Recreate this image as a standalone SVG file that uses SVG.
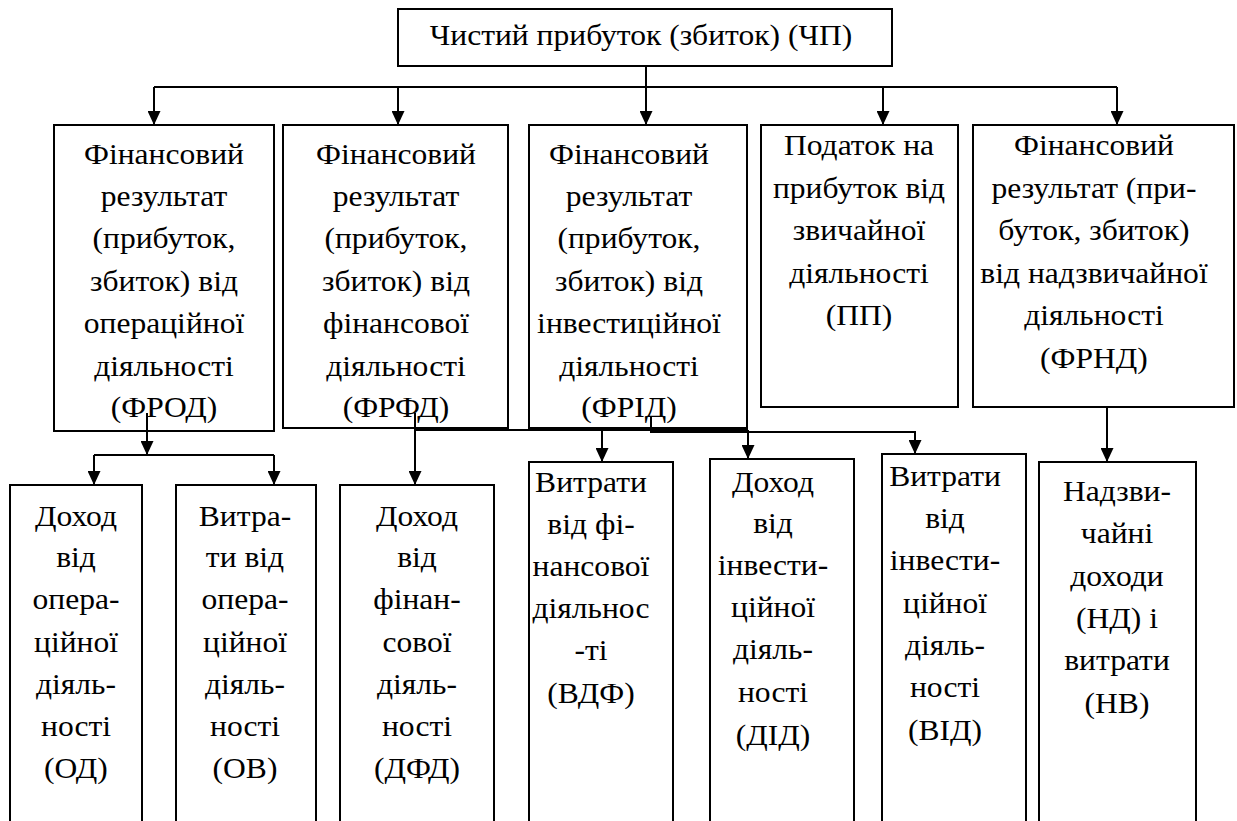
<svg xmlns="http://www.w3.org/2000/svg" width="1237" height="821" viewBox="0 0 1237 821">
<defs>
<marker id="ah" viewBox="0 0 14 13" refX="14" refY="6.5" markerWidth="14" markerHeight="13" markerUnits="userSpaceOnUse" orient="auto">
<path d="M0,0 L14,6.5 L0,13 z" fill="#000"/>
</marker>
<style>
rect{fill:#fff;stroke:#000;stroke-width:2}
.c{fill:none;stroke:#000;stroke-width:2}
.a{marker-end:url(#ah)}
</style>
</defs>
<g id="nodes" font-family="'Liberation Serif', 'Times New Roman', serif" font-size="29.5" fill="#000" text-anchor="middle">
<g id="n-top"><rect x="398" y="9" width="494" height="57"/><text transform="matrix(1.07 0 0 1 -44.87 0)" x="641" y="45">Чистий прибуток (збиток) (ЧП)</text></g>
<g id="n-frod"><rect x="54" y="125" width="220" height="306"/><text transform="matrix(1.07 0 0 1 -11.48 0)"><tspan x="164" y="164">Фінансовий</tspan><tspan x="164" y="206">результат</tspan><tspan x="164" y="248">(прибуток,</tspan><tspan x="164" y="291">збиток) від</tspan><tspan x="164" y="333">операційної</tspan><tspan x="164" y="376">діяльності</tspan><tspan x="164" y="417">(ФРОД)</tspan></text></g>
<g id="n-frfd"><rect x="283" y="125" width="225" height="303"/><text transform="matrix(1.07 0 0 1 -27.72 0)"><tspan x="396" y="164">Фінансовий</tspan><tspan x="396" y="206">результат</tspan><tspan x="396" y="248">(прибуток,</tspan><tspan x="396" y="291">збиток) від</tspan><tspan x="396" y="333">фінансової</tspan><tspan x="396" y="376">діяльності</tspan><tspan x="396" y="417">(ФРФД)</tspan></text></g>
<g id="n-frid"><rect x="529" y="125" width="218" height="303"/><text transform="matrix(1.07 0 0 1 -44.03 0)"><tspan x="629" y="164">Фінансовий</tspan><tspan x="629" y="206">результат</tspan><tspan x="629" y="248">(прибуток,</tspan><tspan x="629" y="291">збиток) від</tspan><tspan x="629" y="333">інвестиційної</tspan><tspan x="629" y="376">діяльності</tspan><tspan x="629" y="417">(ФРІД)</tspan></text></g>
<g id="n-pp"><rect x="761" y="125" width="197" height="282"/><text transform="matrix(1.07 0 0 1 -60.13 0)"><tspan x="859" y="155">Податок на</tspan><tspan x="859" y="198">прибуток від</tspan><tspan x="859" y="240">звичайної</tspan><tspan x="859" y="283">діяльності</tspan><tspan x="859" y="325">(ПП)</tspan></text></g>
<g id="n-frnd"><rect x="973" y="125" width="261" height="282"/><text transform="matrix(1.07 0 0 1 -76.58 0)"><tspan x="1094" y="155">Фінансовий</tspan><tspan x="1094" y="198">результат (при-</tspan><tspan x="1094" y="240">буток, збиток)</tspan><tspan x="1094" y="283">від надзвичайної</tspan><tspan x="1094" y="325">діяльності</tspan><tspan x="1094" y="368">(ФРНД)</tspan></text></g>
<g id="n-od"><rect x="10" y="485" width="132" height="345"/><text transform="matrix(1.07 0 0 1 -5.32 0)"><tspan x="76" y="526">Доход</tspan><tspan x="76" y="567">від</tspan><tspan x="76" y="609">опера-</tspan><tspan x="76" y="652">ційної</tspan><tspan x="76" y="694">діяль-</tspan><tspan x="76" y="736">ності</tspan><tspan x="76" y="778">(ОД)</tspan></text></g>
<g id="n-ov"><rect x="176" y="485" width="140" height="345"/><text transform="matrix(1.07 0 0 1 -17.15 0)"><tspan x="245" y="526">Витра-</tspan><tspan x="245" y="567">ти від</tspan><tspan x="245" y="609">опера-</tspan><tspan x="245" y="652">ційної</tspan><tspan x="245" y="694">діяль-</tspan><tspan x="245" y="736">ності</tspan><tspan x="245" y="778">(ОВ)</tspan></text></g>
<g id="n-dfd"><rect x="340" y="485" width="154" height="345"/><text transform="matrix(1.07 0 0 1 -29.19 0)"><tspan x="417" y="526">Доход</tspan><tspan x="417" y="567">від</tspan><tspan x="417" y="609">фінан-</tspan><tspan x="417" y="652">сової</tspan><tspan x="417" y="694">діяль-</tspan><tspan x="417" y="736">ності</tspan><tspan x="417" y="778">(ДФД)</tspan></text></g>
<g id="n-vdf"><rect x="529" y="462" width="144" height="368"/><text transform="matrix(1.07 0 0 1 -41.37 0)"><tspan x="591" y="492">Витрати</tspan><tspan x="591" y="534">від фі-</tspan><tspan x="591" y="576">нансової</tspan><tspan x="591" y="618">діяльнос</tspan><tspan x="591" y="660">-ті</tspan><tspan x="591" y="703">(ВДФ)</tspan></text></g>
<g id="n-did"><rect x="710" y="459" width="144" height="371"/><text transform="matrix(1.07 0 0 1 -54.11 0)"><tspan x="773" y="492">Доход</tspan><tspan x="773" y="533">від</tspan><tspan x="773" y="575">інвести-</tspan><tspan x="773" y="617">ційної</tspan><tspan x="773" y="659">діяль-</tspan><tspan x="773" y="702">ності</tspan><tspan x="773" y="745">(ДІД)</tspan></text></g>
<g id="n-vid"><rect x="882" y="454" width="144" height="376"/><text transform="matrix(1.07 0 0 1 -66.15 0)"><tspan x="945" y="486">Витрати</tspan><tspan x="945" y="528">від</tspan><tspan x="945" y="570">інвести-</tspan><tspan x="945" y="613">ційної</tspan><tspan x="945" y="655">діяль-</tspan><tspan x="945" y="697">ності</tspan><tspan x="945" y="740">(ВІД)</tspan></text></g>
<g id="n-nv"><rect x="1039" y="462" width="157" height="368"/><text transform="matrix(1.07 0 0 1 -78.19 0)"><tspan x="1117" y="501">Надзви-</tspan><tspan x="1117" y="543">чайні</tspan><tspan x="1117" y="586">доходи</tspan><tspan x="1117" y="628">(НД) і</tspan><tspan x="1117" y="670">витрати</tspan><tspan x="1117" y="713">(НВ)</tspan></text></g>
</g>
<g id="connectors">
<path class="c" d="M646,66 V125"/>
<path class="c" d="M154,87 H1117"/>
<path class="c a" d="M154,87 V125"/>
<path class="c a" d="M398,87 V125"/>
<path class="c a" d="M646,87 V125"/>
<path class="c a" d="M883,87 V125"/>
<path class="c a" d="M1117,87 V125"/>
<path class="c a" d="M147,413 V455"/>
<path class="c" d="M94,455 H274"/>
<path class="c a" d="M94,455 V485"/>
<path class="c a" d="M274,455 V485"/>
<path class="c a" d="M415,413 V485"/>
<path class="c" d="M415,430 H748"/>
<path class="c a" d="M602,430 V462"/>
<path class="c a" d="M748,430 V459"/>
<path class="c a" d="M651,417 V432 H915 V454"/>
<path class="c a" d="M1107,407 V462"/>
</g>
</svg>
